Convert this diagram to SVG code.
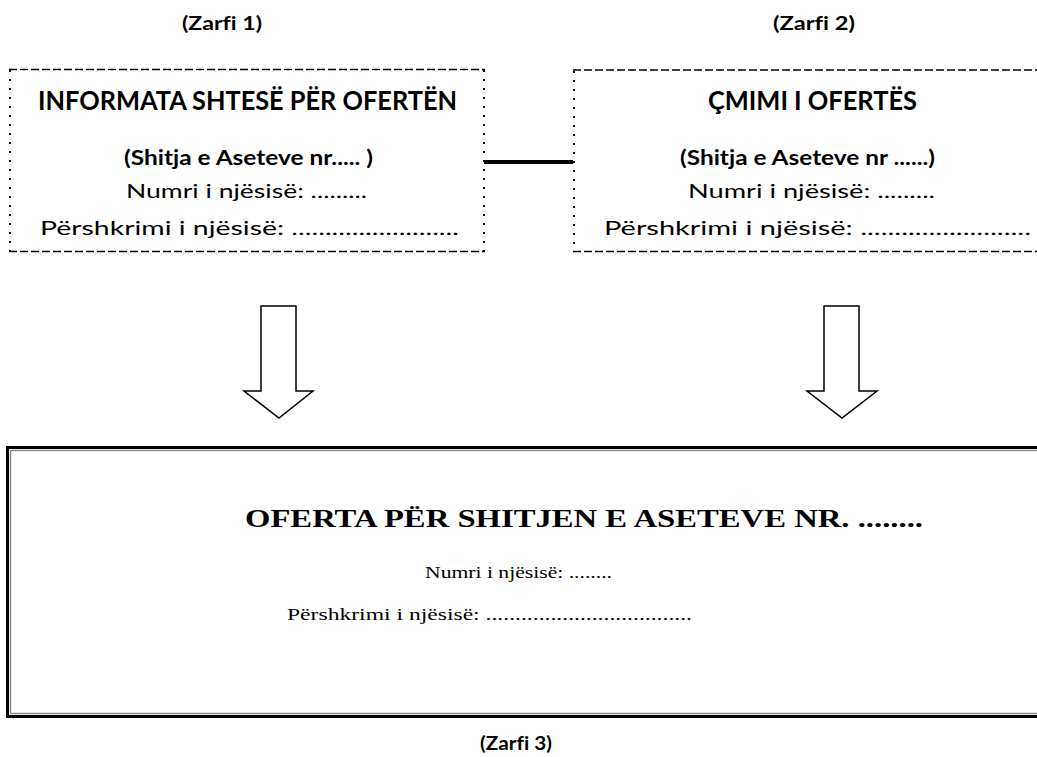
<svg xmlns="http://www.w3.org/2000/svg" width="1037" height="757" viewBox="0 0 1037 757">
<style>
.dash{stroke:#000;stroke-width:1.3;stroke-dasharray:8 3;fill:none}
.dot{stroke:#000;stroke-width:2;stroke-dasharray:2 7;fill:none}
.sb{font-family:Lato,"Open Sans",sans-serif;font-weight:bold;fill:#000;font-variant-ligatures:none}
.sr{font-family:Lato,"Open Sans",sans-serif;fill:#000;font-variant-ligatures:none}
.fb{font-family:"Liberation Serif",serif;font-weight:bold;fill:#000}
.fr{font-family:"Liberation Serif",serif;fill:#000}
.arrow{fill:#fff;stroke:#000;stroke-width:1.5;stroke-linejoin:miter}
</style>
<rect width="1037" height="757" fill="#fff"/>
<g id="label-zarfi1"><text class="sb" x="222" y="30" font-size="19" text-anchor="middle" textLength="80" lengthAdjust="spacingAndGlyphs">(Zarfi 1)</text></g>
<g id="label-zarfi2"><text class="sb" x="814" y="30" font-size="19" text-anchor="middle" textLength="82" lengthAdjust="spacingAndGlyphs">(Zarfi 2)</text></g>
<g id="node-informata">
<line class="dash" x1="9" y1="69.5" x2="485" y2="69.5"/>
<line class="dash" x1="9" y1="251.5" x2="485" y2="251.5"/>
<line class="dot" x1="10" y1="70" x2="10" y2="251"/>
<line class="dot" x1="484" y1="70" x2="484" y2="251"/>
<text class="sb" x="247.5" y="110" font-size="26" text-anchor="middle" textLength="419" lengthAdjust="spacingAndGlyphs">INFORMATA SHTESË PËR OFERTËN</text>
<text class="sb" x="248.5" y="165" font-size="20" text-anchor="middle" textLength="249" lengthAdjust="spacingAndGlyphs">(Shitja e Aseteve nr..... )</text>
<text class="sr" x="246.5" y="198" font-size="20" text-anchor="middle" textLength="241" lengthAdjust="spacingAndGlyphs">Numri i njësisë: .........</text>
<text class="sr" x="249.5" y="235" font-size="20" text-anchor="middle" textLength="419" lengthAdjust="spacingAndGlyphs">Përshkrimi i njësisë: .........................</text>
</g>
<g id="node-cmimi">
<line class="dash" x1="573" y1="70" x2="1040" y2="70"/>
<line class="dash" x1="573" y1="251.5" x2="1040" y2="251.5"/>
<line class="dot" x1="574" y1="71" x2="574" y2="251"/>
<text class="sb" x="812.5" y="110" font-size="26" text-anchor="middle" textLength="209" lengthAdjust="spacingAndGlyphs">ÇMIMI I OFERTËS</text>
<text class="sb" x="807.5" y="165" font-size="20" text-anchor="middle" textLength="255" lengthAdjust="spacingAndGlyphs">(Shitja e Aseteve nr ......)</text>
<text class="sr" x="811.5" y="198" font-size="20" text-anchor="middle" textLength="247" lengthAdjust="spacingAndGlyphs">Numri i njësisë: .........</text>
<text class="sr" x="817.5" y="235" font-size="20" text-anchor="middle" textLength="427" lengthAdjust="spacingAndGlyphs">Përshkrimi i njësisë: .........................</text>
</g>
<g id="connectors">
<line x1="484" y1="162" x2="573" y2="162" stroke="#000" stroke-width="4"/>
<path class="arrow" d="M261,306 H296 V391 H313 L279,418 L244,391 H261 Z"/>
<path class="arrow" d="M824,306 H859 V391 H877 L842,418 L807,391 H824 Z"/>
</g>
<g id="node-oferta">
<rect x="7.5" y="447.5" width="1040" height="269" fill="none" stroke="#000" stroke-width="3"/>
<rect x="10.5" y="450.5" width="1040" height="263" fill="none" stroke="#8a8a8a" stroke-width="1.5"/>
<text class="fb" x="584" y="527" font-size="26" text-anchor="middle" textLength="678" lengthAdjust="spacingAndGlyphs">OFERTA PËR SHITJEN E ASETEVE NR. ........</text>
<text class="fr" x="518.5" y="578" font-size="17" text-anchor="middle" textLength="187" lengthAdjust="spacingAndGlyphs">Numri i njësisë: ........</text>
<text class="fr" x="489.5" y="620" font-size="17" text-anchor="middle" textLength="405" lengthAdjust="spacingAndGlyphs">Përshkrimi i njësisë: ...................................</text>
</g>
<g id="label-zarfi3"><text class="sb" x="516" y="750" font-size="19" text-anchor="middle" textLength="72" lengthAdjust="spacingAndGlyphs">(Zarfi 3)</text></g>
</svg>
